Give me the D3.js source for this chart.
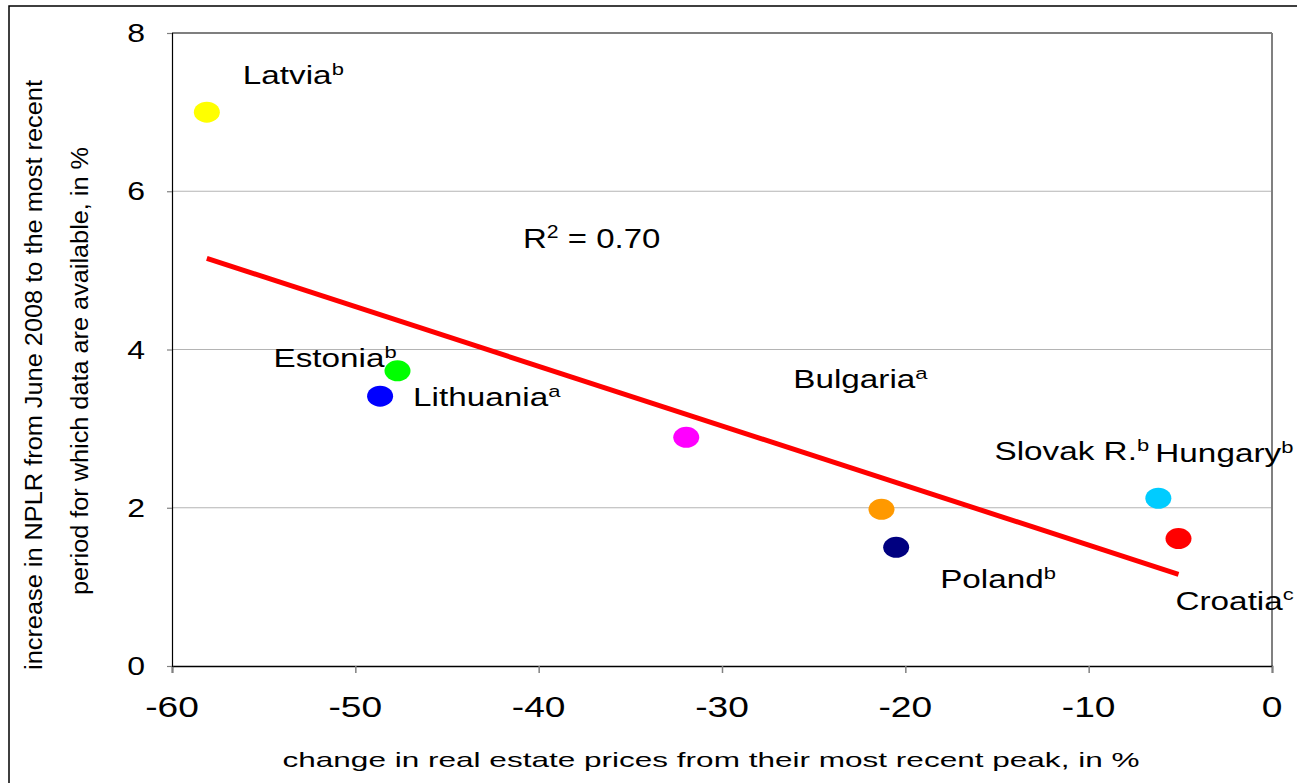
<!DOCTYPE html>
<html>
<head>
<meta charset="utf-8">
<script src="https://cdn.jsdelivr.net/npm/d3@7"></script>
<style>
  html, body { margin: 0; padding: 0; background: #fff; }
  svg { display: block; font-family: "Liberation Sans", Arial, sans-serif; }
</style>
</head>
<body>
<svg id="chart" width="1297" height="783"></svg>
<script>
// Countries, their note markers and the two measured values
const countries = ["Latvia", "Estonia", "Lithuania", "Bulgaria", "Slovak R.", "Poland", "Hungary", "Croatia"];
const notes = ["b", "b", "a", "a", "b", "b", "b", "c"];
const priceChange = [-58.1, -47.7, -48.65, -31.95, -21.3, -20.5, -6.2, -5.1];
const nplrIncrease = [7.00, 3.73, 3.41, 2.89, 1.98, 1.50, 2.12, 1.61];
const xTicks = [-60, -50, -40, -30, -20, -10, 0];
const yTicks = [0, 2, 4, 6, 8];

// Marker colours and label placement (pixel offsets from each marker)
const markerColors = ["#ffff00", "#00ff00", "#0000ff", "#ff00ff", "#ff9900", "#000080", "#00ccff", "#ff0000"];
const labelOffsets = [[36, -28], [-124, -4], [33, 10], [107, -49], [113, -49], [44, 41], [-3, -36], [-3, 71]];

const W = 1297, H = 783;
const plot = { left: 172, right: 1272, top: 33, bottom: 666 };
const SX = 1.28; // horizontal stretch applied to horizontal text

const svg = d3.select("#chart");
const x = d3.scaleLinear().domain([-60, 0]).range([plot.left, plot.right]);
const y = d3.scaleLinear().domain([0, 8]).range([plot.bottom, plot.top]);

// outer frame
svg.append("rect").attr("x", 9).attr("y", 6).attr("width", W).attr("height", H)
  .attr("fill", "none").attr("stroke", "#000").attr("stroke-width", 1.5);

function hText(px, py, str, size, anchor, sup) {
  const t = svg.append("text")
    .attr("transform", `translate(${px},${py}) scale(${SX},1)`)
    .attr("font-size", size).attr("text-anchor", anchor || "start").attr("fill", "#000");
  t.append("tspan").text(str);
  if (sup) {
    t.append("tspan").attr("font-size", size * 0.66).attr("dy", -size * 0.36).text(sup);
  }
  return t;
}

// gridlines
svg.append("g").selectAll("line").data(yTicks.filter(v => v > 0 && v < 8)).join("line")
  .attr("x1", plot.left).attr("x2", plot.right)
  .attr("y1", d => y(d)).attr("y2", d => y(d))
  .attr("stroke", "#b4b4b4").attr("stroke-width", 1.2);

// plot frame: top black, right grey
svg.append("line").attr("x1", plot.left).attr("x2", plot.right).attr("y1", plot.top).attr("y2", plot.top)
  .attr("stroke", "#000").attr("stroke-width", 1.2);
svg.append("line").attr("x1", plot.right).attr("x2", plot.right).attr("y1", plot.top).attr("y2", plot.bottom)
  .attr("stroke", "#808080").attr("stroke-width", 2);

// axes
const xAxis = svg.append("g").attr("transform", `translate(0,${plot.bottom})`)
  .call(d3.axisBottom(x).tickValues(xTicks).tickSize(7).tickFormat(""));
xAxis.select(".domain").attr("stroke", "#000").attr("stroke-width", 1.5);
xAxis.selectAll(".tick line").attr("stroke", "#808080").attr("stroke-width", 1.5);

const yAxis = svg.append("g").attr("transform", `translate(${plot.left},0)`)
  .call(d3.axisLeft(y).tickValues(yTicks).tickSize(5).tickFormat(""));
yAxis.select(".domain").attr("stroke", "#000").attr("stroke-width", 1.2);
yAxis.selectAll(".tick line").attr("stroke", "#808080").attr("stroke-width", 1.2);

// tick labels
xTicks.forEach(v => hText(x(v), 717, String(v), 29, "middle"));
yTicks.forEach(v => hText(145, y(v) + 9, String(v), 25, "end"));

// axis titles
svg.append("text").attr("x", 711).attr("y", 767).attr("text-anchor", "middle")
  .attr("font-size", 21).attr("textLength", 857).attr("lengthAdjust", "spacingAndGlyphs")
  .text("change in real estate prices from their most recent peak, in %");

svg.append("text").attr("transform", "translate(42,375) rotate(-90)").attr("text-anchor", "middle")
  .attr("font-size", 23).attr("textLength", 590).attr("lengthAdjust", "spacingAndGlyphs")
  .text("increase in NPLR from June 2008 to the most recent");
svg.append("text").attr("transform", "translate(88,371) rotate(-90)").attr("text-anchor", "middle")
  .attr("font-size", 23).attr("textLength", 448).attr("lengthAdjust", "spacingAndGlyphs")
  .text("period for which data are available, in %");

// least-squares trend line across the data
const n = priceChange.length;
const mx = d3.mean(priceChange), my = d3.mean(nplrIncrease);
let sxy = 0, sxx = 0, syy = 0;
for (let i = 0; i < n; i++) {
  sxy += (priceChange[i] - mx) * (nplrIncrease[i] - my);
  sxx += (priceChange[i] - mx) ** 2;
  syy += (nplrIncrease[i] - my) ** 2;
}
const slope = sxy / sxx, intercept = my - slope * mx;
const r2 = (sxy * sxy) / (sxx * syy);
const [x0, x1] = d3.extent(priceChange);
svg.append("line")
  .attr("x1", x(x0)).attr("y1", y(intercept + slope * x0))
  .attr("x2", x(x1)).attr("y2", y(intercept + slope * x1))
  .attr("stroke", "#ff0000").attr("stroke-width", 5);

// R² label
const rt = svg.append("text").attr("transform", `translate(523,248) scale(${SX * 0.92},1)`)
  .attr("font-size", 28).attr("fill", "#000");
rt.append("tspan").text("R");
rt.append("tspan").attr("font-size", 18).attr("dy", -10).text("2");
rt.append("tspan").attr("dy", 10).text(" = " + r2.toFixed(2));

// markers
svg.append("g").selectAll("ellipse").data(countries).join("ellipse")
  .attr("cx", (d, i) => x(priceChange[i]))
  .attr("cy", (d, i) => y(nplrIncrease[i]))
  .attr("rx", 13).attr("ry", 10.5)
  .attr("fill", (d, i) => markerColors[i]);

// country labels
countries.forEach((c, i) => {
  hText(x(priceChange[i]) + labelOffsets[i][0], y(nplrIncrease[i]) + labelOffsets[i][1], c, 26, "start", notes[i]);
});
</script>
</body>
</html>
